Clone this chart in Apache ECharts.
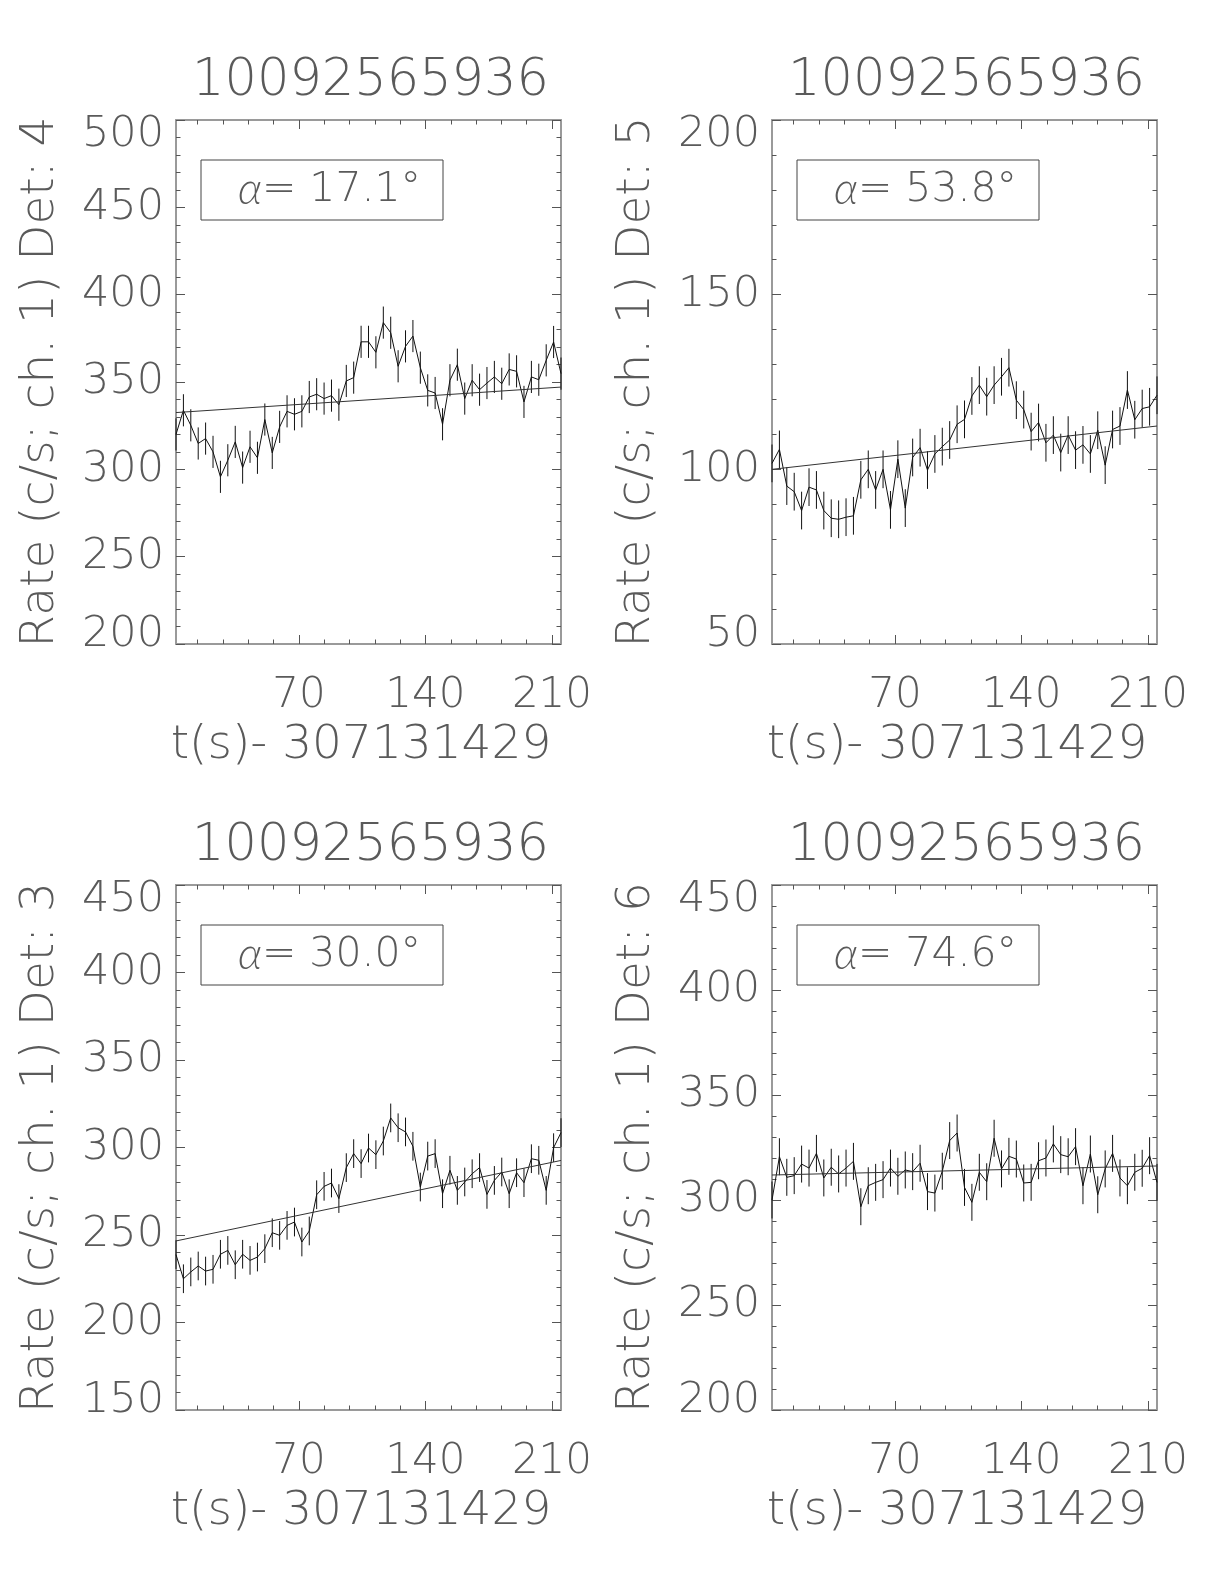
<!DOCTYPE html>
<html>
<head>
<meta charset="utf-8">
<script src="https://cdn.jsdelivr.net/npm/echarts@6/dist/echarts.min.js"></script>
<style>
  html, body { margin: 0; padding: 0; background: #fff; }
  #chart { width: 1224px; height: 1584px; }
</style>
</head>
<body>
<div id="chart"></div>
<script>
// bin times, t - 307131429 (s)
const times = [2.00, 6.10, 10.19, 14.29, 18.38, 22.48, 26.58, 30.67, 34.77, 38.86,
  42.96, 47.06, 51.15, 55.25, 59.34, 63.44, 67.54, 71.63, 75.73, 79.82,
  83.92, 88.02, 92.11, 96.21, 100.30, 104.40, 108.50, 112.59, 116.69, 120.78,
  124.88, 128.98, 133.07, 137.17, 141.26, 145.36, 149.46, 153.55, 157.65, 161.74,
  165.84, 169.94, 174.03, 178.13, 182.22, 186.32, 190.42, 194.51, 198.61, 202.70,
  206.80, 210.90, 214.99];

const rateDet4 = [320, 333.8, 325.2, 314.8, 317.6, 310, 295.7, 305.2, 315.7, 301,
  312.9, 306.6, 328.5, 309.4, 324.3, 333.2, 331.5, 333.2, 341.4, 343,
  340.5, 342.2, 337, 350.6, 352.5, 373, 373, 367, 384, 378.2,
  359, 370.4, 376.3, 358.2, 345.2, 343.7, 325.8, 351, 359.9, 340.5,
  351, 345.6, 349.4, 352.9, 349, 357.2, 356.1, 338.6, 352.9, 351.3,
  362.4, 372.9, 354.8];
const rateDet5 = [101.7, 105.7, 95.2, 93.6, 88.2, 94.9, 94.1, 88.2, 86, 85.7,
  86.3, 86.7, 97, 100, 94.1, 100, 88.4, 102.9, 88.9, 103.4,
  106.2, 99.8, 104.4, 106.5, 108.4, 112.9, 114.3, 121, 124.1, 120.8,
  124.1, 126.5, 129.1, 119.8, 117.1, 110.8, 113.4, 107.6, 109.8, 104.8,
  109.8, 105.5, 107, 104.4, 111.2, 101.2, 111.4, 112.4, 122.7, 114.2,
  117.4, 117.9, 121.2];
const rateDet3 = [238.8, 225, 228.9, 232.3, 229.4, 230.4, 239, 241.2, 233, 239,
  235.5, 237.4, 242.2, 251.3, 249.8, 255.5, 257.4, 246, 252.3, 273,
  277.8, 279.7, 270.8, 288.5, 296.5, 290.8, 299.7, 295.9, 303.7, 316.9,
  311.3, 308.9, 300.7, 277.4, 295.1, 296.5, 273.6, 287, 275.5, 280.3,
  285, 288.5, 273.2, 281.2, 286, 273.6, 285.6, 279.9, 293.6, 292.7,
  275.5, 299.9, 308.5];
const rateDet6 = [300, 320.6, 310.8, 311.6, 317.1, 315.2, 322.2, 310.5, 315.6, 312.4,
  315.2, 318.4, 296.8, 306.8, 308.4, 309.7, 315.2, 311.3, 314.3, 313.5,
  317.5, 304, 303.3, 313.7, 328.3, 331.9, 306, 298.9, 313.2, 308.7,
  329.4, 314.8, 320.8, 319.5, 308.1, 308.4, 318.7, 320, 326.7, 321.6,
  320.6, 325.4, 306.8, 321.9, 302.5, 314.8, 322.2, 310.5, 306.8, 313.2,
  315.1, 321.1, 308.4];

// panels: top-left, top-right, bottom-left, bottom-right
const rates = [rateDet4, rateDet5, rateDet3, rateDet6];
const detectors = [4, 5, 3, 6];
const alphas = ['17.1', '53.8', '30.0', '74.6'];
const errHalf = [9.2, 5.4, 8.2, 8.8];
const fitStart = [332.5, 100.0, 246.6, 311.9];
const fitEnd = [347.1, 112.4, 292.6, 316.2];
const yMin = [200, 50, 150, 200];
const yMax = [500, 200, 450, 450];
const xMajor = [70, 140, 210];
const xMinor = [14, 28, 42, 56, 84, 98, 112, 126, 154, 168, 182, 196];
const obsId = '10092565936';
const tRef = '307131429';

const FONT = 'DejaVu Sans';
const TXT = '#5a5a5a';
const AXLINE = '#9a9a9a';
const TICK = '#555';

const grids = [
  { left: 176, top: 120, width: 385, height: 524 },
  { left: 772, top: 120, width: 385, height: 524 },
  { left: 176, top: 885, width: 385, height: 525 },
  { left: 772, top: 885, width: 385, height: 525 }
];

const chart = echarts.init(document.getElementById('chart'));
const xAxes = [];
const yAxes = [];
const series = [];
const graphic = [];

function errRender(params, api) {
  const x = api.value(0);
  const y = api.value(1);
  const e = api.value(2);
  const p1 = api.coord([x, y + e]);
  const p2 = api.coord([x, y - e]);
  return {
    type: 'line',
    shape: { x1: p1[0], y1: p1[1], x2: p2[0], y2: p2[1] },
    style: { stroke: '#111', lineWidth: 1 }
  };
}

const labelFont = { fontFamily: FONT, fontWeight: 200, fontSize: 43, color: TXT };

grids.forEach((g, p) => {
  const tMin = times[0];
  const tMax = times[times.length - 1];
  const baseX = {
    gridIndex: p, type: 'value', min: tMin, max: tMax,
    splitLine: { show: false }
  };
  // bottom x axis: line, major ticks, labels, name
  const xi = xAxes.length;
  xAxes.push(Object.assign({}, baseX, {
    position: 'bottom',
    axisLine: { show: true, lineStyle: { color: AXLINE, width: 2 } },
    axisTick: { show: true, inside: true, length: 9, customValues: xMajor, lineStyle: { color: TICK } },
    axisLabel: { customValues: xMajor, fontFamily: FONT, fontWeight: 200, fontSize: 42, color: TXT, margin: 31 },
    name: 't(s)- ' + tRef, nameLocation: 'middle', nameGap: 78,
    nameTextStyle: { fontFamily: FONT, fontWeight: 200, fontSize: 47, color: TXT, padding: [0, 15, 0, 0] }
  }));
  xAxes.push(Object.assign({}, baseX, {
    position: 'bottom',
    axisLine: { show: false },
    axisTick: { show: true, inside: true, length: 4.5, customValues: xMinor, lineStyle: { color: TICK } },
    axisLabel: { show: false }
  }));
  xAxes.push(Object.assign({}, baseX, {
    position: 'top',
    axisLine: { show: true, lineStyle: { color: AXLINE, width: 2 } },
    axisTick: { show: true, inside: true, length: 9, customValues: xMajor, lineStyle: { color: TICK } },
    axisLabel: { show: false }
  }));
  xAxes.push(Object.assign({}, baseX, {
    position: 'top',
    axisLine: { show: false },
    axisTick: { show: true, inside: true, length: 4.5, customValues: xMinor, lineStyle: { color: TICK } },
    axisLabel: { show: false }
  }));

  const baseY = {
    gridIndex: p, type: 'value', min: yMin[p], max: yMax[p], interval: 50,
    splitLine: { show: false },
    axisLine: { show: true, lineStyle: { color: AXLINE, width: 2 } },
    axisTick: { show: true, inside: true, length: 9, lineStyle: { color: TICK } },
    minorTick: { show: true, splitNumber: 5, length: 4.5, lineStyle: { color: TICK } }
  };
  const yi = yAxes.length;
  yAxes.push(Object.assign({}, baseY, {
    position: 'left',
    axisLabel: Object.assign({}, labelFont, {
      margin: 12,
      // end labels are pushed inside the axis range
      formatter: function (v) {
        if (v === yMax[p]) return '{mx|' + v + '}';
        if (v === yMin[p]) return '{mn|' + v + '}';
        return '' + v;
      },
      rich: {
        mx: Object.assign({}, labelFont, { padding: [30, 0, 0, 0] }),
        mn: Object.assign({}, labelFont, { padding: [0, 0, 19, 0] })
      }
    }),
    name: 'Rate (c/s; ch. 1) Det: ' + detectors[p],
    nameLocation: 'middle', nameRotate: 90, nameGap: 112,
    nameTextStyle: { fontFamily: FONT, fontWeight: 200, fontSize: 47, color: TXT }
  }));
  yAxes.push(Object.assign({}, baseY, {
    position: 'right',
    axisLabel: { show: false }
  }));

  series.push({
    type: 'custom',
    xAxisIndex: xi, yAxisIndex: yi,
    renderItem: errRender,
    data: times.map((t, i) => [t, rates[p][i], errHalf[p]]),
    silent: true, z: 2
  });
  series.push({
    type: 'line',
    xAxisIndex: xi, yAxisIndex: yi,
    data: times.map((t, i) => [t, rates[p][i]]),
    symbol: 'none',
    lineStyle: { color: '#111', width: 1 },
    silent: true, z: 3
  });
  series.push({
    type: 'line',
    xAxisIndex: xi, yAxisIndex: yi,
    data: [[tMin, fitStart[p]], [tMax, fitEnd[p]]],
    symbol: 'none',
    lineStyle: { color: '#333', width: 1 },
    silent: true, z: 4
  });

  // title above each panel
  graphic.push({
    type: 'text',
    x: g.left + g.width / 2 + 2, y: g.top - 38,
    style: {
      text: obsId, fontFamily: FONT, fontWeight: 200, fontSize: 51,
      fill: TXT, align: 'center', verticalAlign: 'middle'
    }
  });
  // alpha annotation box
  graphic.push({
    type: 'rect',
    shape: { x: g.left + 25, y: g.top + 40, width: 242, height: 60 },
    style: { fill: 'none', stroke: '#444', lineWidth: 1 }
  });
  graphic.push({
    type: 'text',
    x: g.left + 62, y: g.top + 70,
    style: {
      text: '{a|α}= ' + alphas[p] + '°',
      fontFamily: FONT, fontWeight: 200, fontSize: 41, fill: TXT,
      verticalAlign: 'middle',
      rich: { a: { fontFamily: 'Lato', fontWeight: 300, fontStyle: 'italic', fontSize: 44, color: TXT } }
    }
  });
});

const option = {
  animation: false,
  backgroundColor: '#fff',
  grid: grids.map(g => Object.assign({ containLabel: false }, g)),
  xAxis: xAxes,
  yAxis: yAxes,
  series: series,
  graphic: graphic
};
chart.setOption(option);
</script>
</body>
</html>
